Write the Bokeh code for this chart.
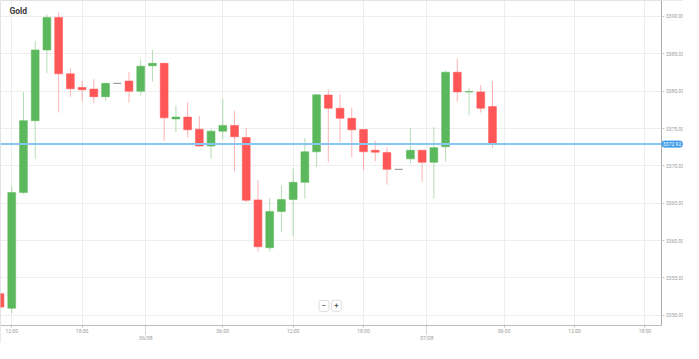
from bokeh.plotting import figure
from bokeh.models import FixedTicker, LinearAxis, Label, Range1d, PrintfTickFormatter, ColumnDataSource, BoxAnnotation
from bokeh.embed import file_html
from bokeh.resources import INLINE

title_text = "Gold"

# candles: hour offsets from 05/08 12:00
hours = list(range(-1, 42))
opens = [3352.90, 3350.96, 3366.43, 3376.06, 3385.52, 3389.87, 3382.33, 3380.50, 3380.28, 3379.26,
         3381.05, 3381.36, 3379.99, 3383.40, 3383.73, 3376.28, 3376.53, 3374.91, 3372.66, 3374.65,
         3375.42, 3373.81, 3365.45, 3359.05, 3363.91, 3365.50, 3367.80, 3371.89, 3379.48, 3377.72,
         3376.37, 3374.87, 3372.10, 3371.80, 3369.54, 3370.95, 3372.10, 3370.49, 3372.57, 3382.54,
         3379.90, 3379.90, 3377.94]
highs = [3353.00, 3367.29, 3379.90, 3386.73, 3390.31, 3390.56, 3383.06, 3381.39, 3381.61, 3381.10,
         3381.05, 3382.54, 3384.25, 3385.52, 3383.80, 3378.07, 3378.49, 3376.66, 3374.96, 3378.93,
         3377.39, 3375.09, 3368.06, 3365.70, 3367.33, 3369.63, 3373.72, 3379.60, 3380.20, 3379.57,
         3377.81, 3374.90, 3373.38, 3372.44, 3369.54, 3375.00, 3372.10, 3375.22, 3382.76, 3384.37,
         3380.41, 3380.84, 3381.36]
lows = [3350.90, 3350.23, 3366.21, 3370.95, 3382.42, 3377.14, 3379.26, 3378.67, 3378.41, 3378.71,
        3381.05, 3378.49, 3379.44, 3381.27, 3373.38, 3374.53, 3373.81, 3372.60, 3370.95, 3373.50,
        3369.28, 3365.15, 3358.54, 3358.54, 3361.10, 3360.59, 3365.63, 3369.88, 3370.49, 3373.17,
        3371.16, 3369.46, 3370.61, 3367.49, 3369.54, 3370.31, 3367.84, 3365.63, 3370.52, 3378.58,
        3376.79, 3377.14, 3372.44]
closes = [3351.10, 3366.43, 3376.06, 3385.52, 3389.87, 3382.33, 3380.33, 3380.20, 3379.26, 3381.05,
          3381.05, 3379.99, 3383.35, 3383.73, 3376.44, 3376.53, 3374.83, 3372.66, 3374.65, 3375.42,
          3373.89, 3365.41, 3359.18, 3363.91, 3365.50, 3367.80, 3371.89, 3379.51, 3377.72, 3376.37,
          3374.83, 3371.89, 3371.84, 3369.54, 3369.54, 3372.10, 3370.49, 3372.44, 3382.54, 3379.90,
          3379.95, 3377.72, 3372.92]

time_ticks = [0, 6, 18, 24, 30, 42, 48, 54]
time_labels = ["12:00", "18:00", "06:00", "12:00", "18:00", "06:00", "12:00", "18:00"]
date_ticks = [11.45, 35.4]
date_labels = ["06/08", "07/08"]
price_ticks = [3350, 3355, 3360, 3365, 3370, 3375, 3380, 3385, 3390]
last_price = closes[-1]

# view window (whole canvas) and where the axes sit inside it
X_START, X_AXIS, X_END = -0.958, 55.375, 57.29
Y_START, Y_AXIS, Y_END = 3346.23, 3348.66, 3392.14

UP = "#5cb85c"
DOWN = "#ff5757"
FLAT = "#7a7a7a"
FONT = "Roboto"
LABEL_COLOR = "#9a9a9a"
GRID = "#eeeeee"

colors = [UP if c > o else (DOWN if c < o else FLAT) for o, c in zip(opens, closes)]
src = ColumnDataSource(dict(
    x=hours, o=opens, h=highs, l=lows, c=closes, color=colors,
    top=[max(o, c) for o, c in zip(opens, closes)],
    bottom=[min(o, c) for o, c in zip(opens, closes)],
))

p = figure(width=683, height=343, x_range=Range1d(X_START, X_END), y_range=Range1d(Y_START, Y_END),
           y_axis_location="right", toolbar_location=None, output_backend="svg",
           min_border_left=0, min_border_top=0, min_border_right=0, min_border_bottom=0)
p.background_fill_color = "white"
p.border_fill_color = "white"
p.outline_line_color = "#e3e3e3"

# grid
p.xgrid.ticker = FixedTicker(ticks=sorted(time_ticks + date_ticks))
p.ygrid.ticker = FixedTicker(ticks=price_ticks)
p.xgrid.grid_line_color = GRID
p.ygrid.grid_line_color = GRID

# blank out grid outside the plotting area (axis zones)
p.add_layout(BoxAnnotation(left=X_AXIS, fill_color="white", fill_alpha=1, line_color=None, level="underlay"))
p.add_layout(BoxAnnotation(top=Y_AXIS, fill_color="white", fill_alpha=1, line_color=None, level="underlay"))

# candles
p.segment(x0="x", y0="l", x1="x", y1="h", source=src, line_color="color", line_alpha=0.45, line_width=1)
p.vbar(x="x", width=0.667, top="top", bottom="bottom", source=src,
       fill_color="color", line_color="color", line_alpha=0.55, line_width=1)

# current price line
p.segment(x0=[X_START], x1=[X_AXIS], y0=[last_price], y1=[last_price], line_color="#86c8f3", line_width=2)

# time axis
xa = p.xaxis[0]
xa.fixed_location = Y_AXIS
xa.bounds = (X_START, X_AXIS)
xa.ticker = FixedTicker(ticks=time_ticks)
xa.major_label_overrides = {t: s for t, s in zip(time_ticks, time_labels)}
xa.major_tick_out = 2
xa.major_tick_in = 0
xa.minor_tick_line_color = None
xa.axis_line_color = "#bbbbbb"
xa.major_tick_line_color = "#bbbbbb"
xa.major_label_text_font = FONT
xa.major_label_text_font_size = "5px"
xa.major_label_text_color = LABEL_COLOR
xa.major_label_standoff = 1

# date axis
da = LinearAxis(ticker=FixedTicker(ticks=date_ticks),
                major_label_overrides={t: s for t, s in zip(date_ticks, date_labels)})
da.fixed_location = Y_AXIS
da.axis_line_color = None
da.major_tick_in = 0
da.major_tick_out = 9
da.major_tick_line_dash = "1 1"
da.major_tick_line_color = "#aaaaaa"
da.minor_tick_line_color = None
da.major_label_text_font = FONT
da.major_label_text_font_size = "5px"
da.major_label_text_color = LABEL_COLOR
da.major_label_standoff = 1
p.add_layout(da, "below")

# price axis
ya = p.yaxis[0]
ya.fixed_location = X_AXIS
ya.bounds = (Y_AXIS, Y_END)
ya.ticker = FixedTicker(ticks=price_ticks)
ya.formatter = PrintfTickFormatter(format="%.2f")
ya.major_tick_out = 3
ya.major_tick_in = 0
ya.minor_tick_line_color = None
ya.axis_line_color = "#aaaaaa"
ya.major_tick_line_color = "#cccccc"
ya.major_label_text_font = FONT
ya.major_label_text_font_size = "5px"
ya.major_label_text_color = LABEL_COLOR
ya.major_label_standoff = 2

# title
p.add_layout(Label(x=9, x_units="screen", y=Y_END, y_offset=-10.5, text=title_text,
                   text_font=FONT, text_font_style="bold", text_font_size="8.5px",
                   text_color="#3c3c3c", text_baseline="middle", text_align="left"))

# current price tag
p.add_layout(Label(x=X_AXIS, y=last_price, x_offset=1, text=f"{last_price:.2f}",
                   text_font=FONT, text_font_size="5px", text_color="white",
                   text_baseline="middle", text_align="left",
                   background_fill_color="#3d9be9", border_line_color="#3d9be9",
                   padding=1, border_radius=2))

# zoom buttons
for sx, sym in [(323.5, "\u2212"), (336, "+")]:
    p.add_layout(Label(x=sx, x_units="screen", y=Y_AXIS, y_offset=19.5, text=sym,
                       text_font=FONT, text_font_style="bold", text_font_size="7px",
                       text_color="#555555", text_baseline="middle", text_align="center",
                       background_fill_color="white", border_line_color="#dddddd",
                       padding=3, border_radius=2))

open("out.html", "w").write(file_html(p, INLINE))
